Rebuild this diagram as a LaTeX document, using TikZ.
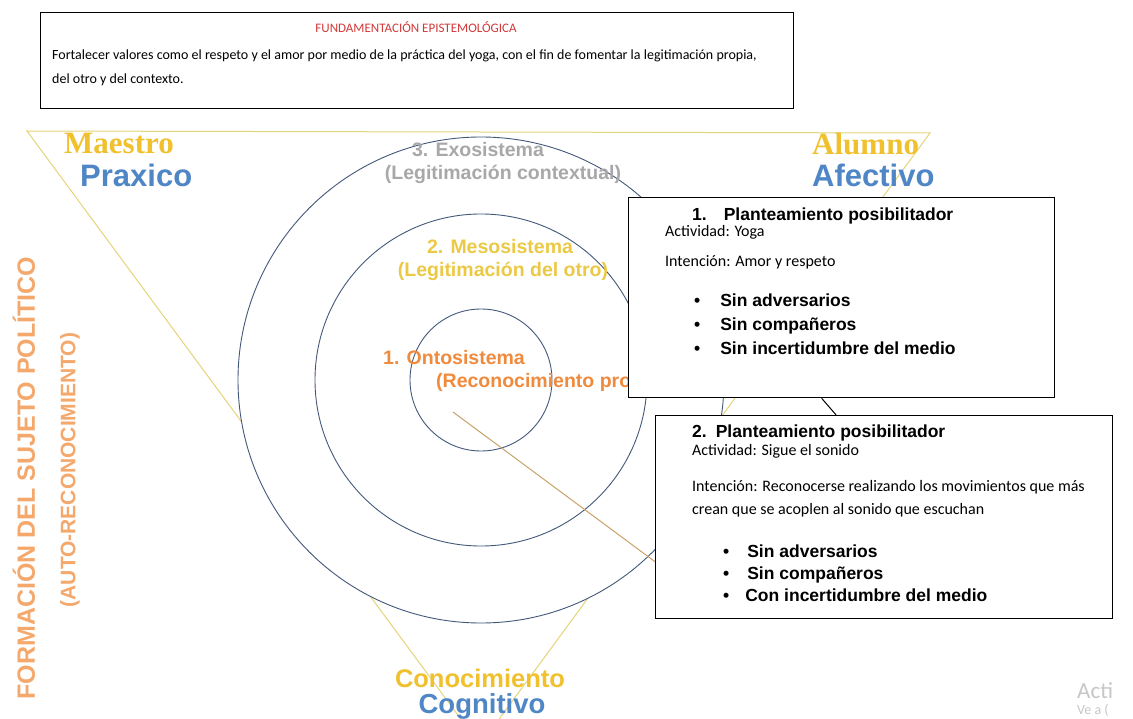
\documentclass[tikz,border=0pt]{standalone}
\usepackage{fontspec}
\setmainfont{Carlito}
\newfontfamily\arialf{Liberation Sans}
\newfontfamily\timesf{Liberation Serif}
\usetikzlibrary{arrows.meta,positioning}
\definecolor{titlered}{HTML}{D23A3A}
\definecolor{gold}{HTML}{F0C12C}
\definecolor{bluetxt}{HTML}{4F86C6}
\definecolor{graytxt}{HTML}{A8A8A8}
\definecolor{mesotxt}{HTML}{EBC944}
\definecolor{ontotxt}{HTML}{F08A3C}
\definecolor{verttxt}{HTML}{F4A86C}
\definecolor{triline}{HTML}{E4D57A}
\definecolor{ringline}{HTML}{44587A}
\definecolor{ontoline}{HTML}{C9A26B}

\begin{document}
\begin{tikzpicture}[x=1pt, y=-1pt, >=Latex,
    ring/.style={draw=ringline, line width=0.9pt},
    planbox/.style={draw=black, line width=1.3pt, fill=white, anchor=north west, inner sep=0pt},
    small/.style={font=\fontsize{16}{18}\selectfont, inner sep=0pt, anchor=base west},
    topsmall/.style={font=\fontsize{14}{16}\selectfont, inner sep=0pt, anchor=base west},
    boldtxt/.style={font=\arialf\bfseries\fontsize{17.5}{19}\selectfont, inner sep=0pt, anchor=base west},
    ringtxt/.style={font=\arialf\bfseries\fontsize{19.5}{21}\selectfont, inner sep=0pt},
    corner/.style={font=\timesf\bfseries\fontsize{31}{33}\selectfont, text=gold, inner sep=0pt, anchor=west},
    dim/.style={font=\arialf\bfseries\fontsize{31}{33}\selectfont, text=bluetxt, inner sep=0pt, anchor=west}]
  \useasboundingbox (0,0) rectangle (1133,719);
  \fill[white] (0,0) rectangle (1133,719);

  % triangle of the three poles
  \coordinate (triL) at (27,131);
  \coordinate (triR) at (930,133);
  \coordinate (triB) at (480,745);
  \begin{scope}
    \clip (0,0) rectangle (1133,719);
    \draw[triline, line width=1pt] (triL) -- (triR) -- (triB) -- cycle;
  \end{scope}
  \node[font=\fontsize{23}{25}\selectfont, text=black!22, anchor=base west, inner sep=0pt] (actw) at (1077,698) {Acti};
  \node[font=\fontsize{14}{16}\selectfont, text=black!22, anchor=base west, inner sep=0pt] (actc) at (1077,714) {Ve a (};

  % nested systems
  \coordinate (ctr) at (481,380);
  \draw[ring, fill=white] (ctr) circle[radius=243];
  \draw[ring] (ctr) circle[radius=166];
  \draw[ring] (ctr) circle[radius=71];

  \node[ringtxt, text=graytxt] (exo) at (478,150) {3. Exosistema};
  \node[ringtxt, text=graytxt] (exoleg) at (503,174) {(Legitimación contextual)};
  \node[ringtxt, text=mesotxt] (meso) at (500,247) {2. Mesosistema};
  \node[ringtxt, text=mesotxt] (mesoleg) at (503,271) {(Legitimación del otro)};
  \node[ringtxt, text=ontotxt, anchor=west] (onto) at (383,358) {1. Ontosistema};
  \node[ringtxt, text=ontotxt, anchor=west] (ontoleg) at (436,382) {(Reconocimiento propio)};

  % poles
  \node[corner] (maestro) at (64,144) {Maestro};
  \node[dim] (praxico) at (80,175) {Praxico};
  \node[corner] (alumno) at (812,144) {Alumno};
  \node[dim] (afectivo) at (812,175) {Afectivo};
  \node[corner, anchor=center, font=\arialf\bfseries\fontsize{25.5}{27}\selectfont] (conoc) at (480,678) {Conocimiento};
  \node[dim, anchor=center, font=\arialf\bfseries\fontsize{27.5}{29}\selectfont] (cognit) at (482,706) {Cognitivo};

  \node[rotate=90, font=\arialf\bfseries\fontsize{25}{27}\selectfont, text=verttxt, inner sep=0pt] (formacion) at (24,478) {FORMACIÓN DEL SUJETO POLÍTICO};
  \node[rotate=90, font=\arialf\bfseries\fontsize{21}{23}\selectfont, text=verttxt, inner sep=0pt] (autorec) at (70,470) {(AUTO-RECONOCIMIENTO)};

  % epistemological foundation
  \node[planbox, line width=1pt, minimum width=753, minimum height=96] (fund) at (40,12) {};
  \node[font=\fontsize{13}{15}\selectfont, text=titlered, inner sep=0pt, anchor=base] (fundtit) at (416,33) {FUNDAMENTACIÓN EPISTEMOLÓGICA};
  \node[topsmall] (fund1) at (52,60) {Fortalecer valores como el respeto y el amor por medio de la práctica del yoga, con el fin de fomentar la legitimación propia,};
  \node[topsmall] (fund2) at (52,84) {del otro y del contexto.};

  % the two proposals
  \coordinate (ontoEnd) at (453,412);
  \node[planbox, minimum width=426, minimum height=200] (plan1) at (628,197) {};
  \node[planbox, minimum width=457, minimum height=203] (plan2) at (655,415) {};
  \draw[ontoline, line width=1pt] (ontoEnd) -- (plan2.191);
  \draw[black, line width=1pt] ([xshift=-20pt]plan1.south) -- ([xshift=-48pt]plan2.north);

  \node[boldtxt] (p1tit) at (692,221) {1.\hspace{17pt}Planteamiento posibilitador};
  \node[small] (p1act) at (665,237) {Actividad: Yoga};
  \node[small] (p1int) at (665,267) {Intención: Amor y respeto};
  \node[boldtxt] (p1b1) at (694,307) {•\hspace{20pt}Sin adversarios};
  \node[boldtxt] (p1b2) at (694,331) {•\hspace{20pt}Sin compañeros};
  \node[boldtxt] (p1b3) at (694,355) {•\hspace{20pt}Sin incertidumbre del medio};

  \node[boldtxt] (p2tit) at (692,437) {2.\hspace{9pt}Planteamiento posibilitador};
  \node[small] (p2act) at (692,455) {Actividad: Sigue el sonido};
  \node[small] (p2int) at (692,491) {Intención: Reconocerse realizando los movimientos que más};
  \node[small] (p2int2) at (692,514) {crean que se acoplen al sonido que escuchan};
  \node[boldtxt] (p2b1) at (723,557) {•\hspace{18pt}Sin adversarios};
  \node[boldtxt] (p2b2) at (723,579) {•\hspace{18pt}Sin compañeros};
  \node[boldtxt] (p2b3) at (723,601) {•\hspace{16pt}Con incertidumbre del medio};
\end{tikzpicture}
\end{document}
